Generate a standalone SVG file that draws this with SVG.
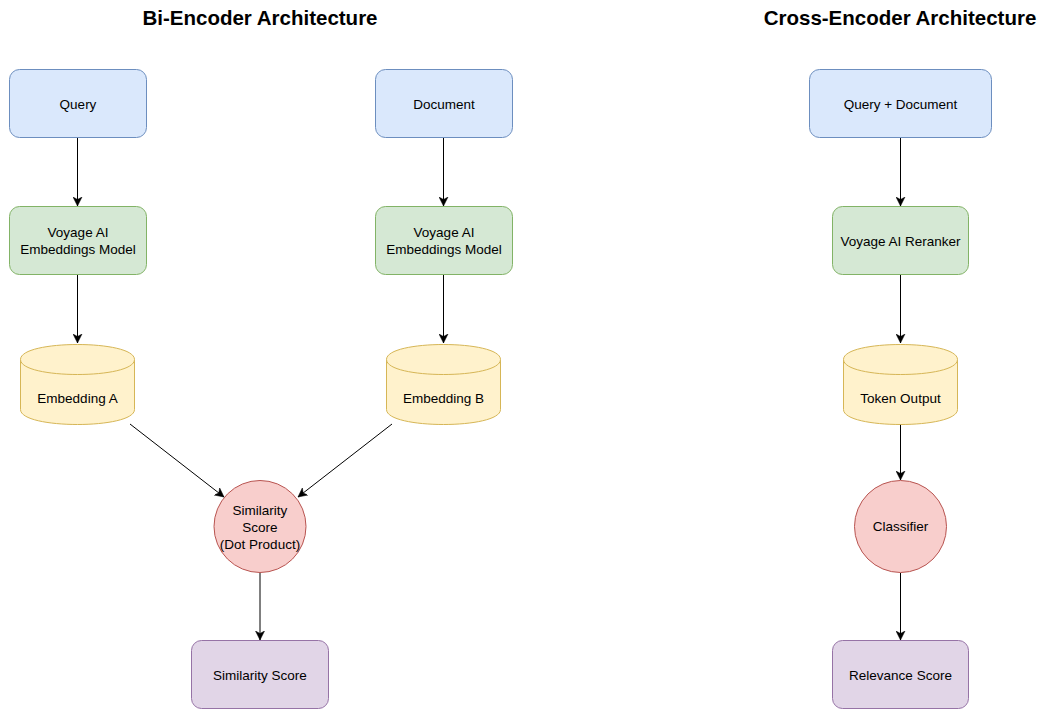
<svg xmlns="http://www.w3.org/2000/svg" width="1040" height="709" viewBox="0 0 1040 709">
<defs>
<style>
text{font-family:"Liberation Sans",Arial,sans-serif;font-size:13.5px;fill:#000;text-anchor:middle;}
.title{font-size:20.5px;font-weight:bold;}
.blue{fill:#dae8fc;stroke:#6c8ebf;stroke-width:1;}
.green{fill:#d5e8d4;stroke:#82b366;stroke-width:1;}
.yellow{fill:#fff2cc;stroke:#d6b656;stroke-width:1;}
.red{fill:#f8cecc;stroke:#b85450;stroke-width:1;}
.purple{fill:#e1d5e7;stroke:#9673a6;stroke-width:1;}
.edge{fill:none;stroke:#000;stroke-width:1;marker-end:url(#arr);}
</style>
<marker id="arr" viewBox="0 0 10 10" refX="9" refY="5" markerWidth="10" markerHeight="10" markerUnits="userSpaceOnUse" orient="auto">
<path d="M0,0.5 L9,5 L0,9.5 L2.5,5 Z" fill="#000" stroke="#000" stroke-width="0.5"/>
</marker>
</defs>
<rect width="1040" height="709" fill="#fff"/>
<g id="titles">
<text class="title" x="260" y="25">Bi-Encoder Architecture</text>
<text class="title" x="900" y="25">Cross-Encoder Architecture</text>
</g>
<g id="connectors">
<path class="edge" d="M77.5,138 L77.5,206"/>
<path class="edge" d="M77.5,275 L77.5,343"/>
<path class="edge" d="M443.5,138 L443.5,206"/>
<path class="edge" d="M443.5,275 L443.5,343"/>
<path class="edge" d="M130,424 L224,497"/>
<path class="edge" d="M392,424 L298,497"/>
<path class="edge" d="M260,573 L260,640"/>
<path class="edge" d="M900.5,138 L900.5,206"/>
<path class="edge" d="M900.5,275 L900.5,343"/>
<path class="edge" d="M900.5,424 L900.5,480"/>
<path class="edge" d="M900.5,573 L900.5,640"/>
</g>
<g id="query">
<rect class="blue" x="9.5" y="69.5" width="137" height="68" rx="10"/>
<text x="78" y="108.5">Query</text>
</g>
<g id="document">
<rect class="blue" x="375.5" y="69.5" width="137" height="68" rx="10"/>
<text x="444" y="108.5">Document</text>
</g>
<g id="voyage-a">
<rect class="green" x="9.5" y="206.5" width="137" height="68" rx="10"/>
<text x="78" y="237">Voyage AI</text>
<text x="78" y="254">Embeddings Model</text>
</g>
<g id="voyage-b">
<rect class="green" x="375.5" y="206.5" width="137" height="68" rx="10"/>
<text x="444" y="237">Voyage AI</text>
<text x="444" y="254">Embeddings Model</text>
</g>
<g id="embedding-a">
<path class="yellow" d="M20.5,359.5 C20.5,339.5 134.5,339.5 134.5,359.5 L134.5,409.5 C134.5,429.5 20.5,429.5 20.5,409.5 Z"/>
<path class="yellow" d="M20.5,359.5 C20.5,379.5 134.5,379.5 134.5,359.5" fill="none"/>
<text x="77.5" y="403">Embedding A</text>
</g>
<g id="embedding-b">
<path class="yellow" d="M386.5,359.5 C386.5,339.5 500.5,339.5 500.5,359.5 L500.5,409.5 C500.5,429.5 386.5,429.5 386.5,409.5 Z"/>
<path class="yellow" d="M386.5,359.5 C386.5,379.5 500.5,379.5 500.5,359.5" fill="none"/>
<text x="443.5" y="403">Embedding B</text>
</g>
<g id="similarity">
<circle class="red" cx="260" cy="526.5" r="46"/>
<text x="260" y="515">Similarity</text>
<text x="260" y="532">Score</text>
<text x="260" y="548.5">(Dot Product)</text>
</g>
<g id="similarity-score">
<rect class="purple" x="191.5" y="640.5" width="137" height="68" rx="10"/>
<text x="260" y="680">Similarity Score</text>
</g>
<g id="query-document">
<rect class="blue" x="809.5" y="69.5" width="182" height="68" rx="10"/>
<text x="900.5" y="108.5">Query + Document</text>
</g>
<g id="reranker">
<rect class="green" x="832.5" y="206.5" width="136" height="68" rx="10"/>
<text x="900.5" y="245.5">Voyage AI Reranker</text>
</g>
<g id="token-output">
<path class="yellow" d="M843.5,359.5 C843.5,339.5 957.5,339.5 957.5,359.5 L957.5,409.5 C957.5,429.5 843.5,429.5 843.5,409.5 Z"/>
<path class="yellow" d="M843.5,359.5 C843.5,379.5 957.5,379.5 957.5,359.5" fill="none"/>
<text x="900.5" y="403">Token Output</text>
</g>
<g id="classifier">
<circle class="red" cx="900.5" cy="526.5" r="46"/>
<text x="900.5" y="531">Classifier</text>
</g>
<g id="relevance-score">
<rect class="purple" x="832.5" y="640.5" width="136" height="68" rx="10"/>
<text x="900.5" y="680">Relevance Score</text>
</g>
</svg>
